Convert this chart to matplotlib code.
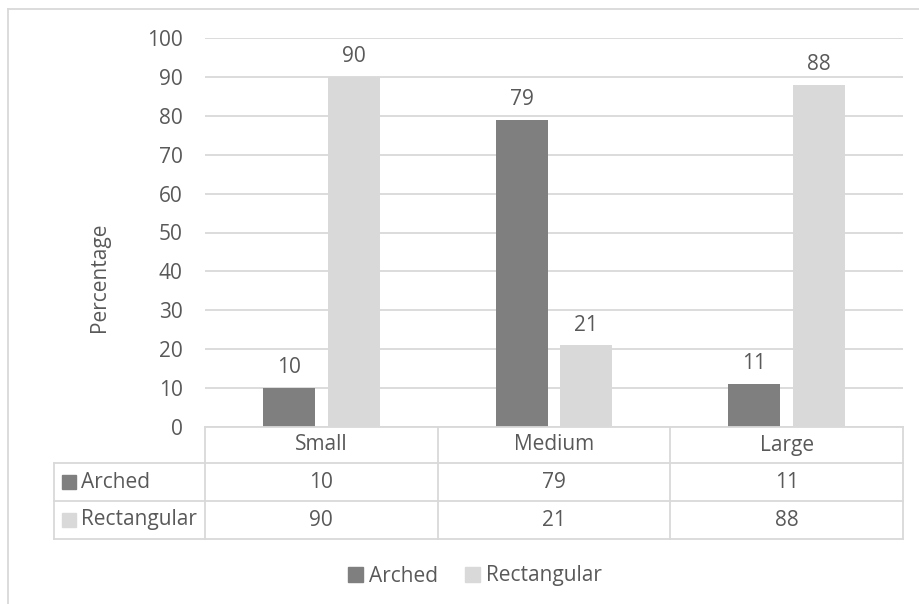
import matplotlib
matplotlib.use("Agg")
import matplotlib.pyplot as plt
from matplotlib.patches import Rectangle, Patch
from matplotlib.lines import Line2D
from matplotlib.transforms import blended_transform_factory
import numpy as np

categories = ["Small", "Medium", "Large"]
series_names = ["Arched", "Rectangular"]
arched = [10, 79, 11]
rectangular = [90, 21, 88]
yticks = [0, 10, 20, 30, 40, 50, 60, 70, 80, 90, 100]
ylabel = "Percentage"

colors = ["#7f7f7f", "#d9d9d9"]
txt = "#595959"
grid = "#d9d9d9"
plt.rcParams['font.family'] = ['Open Sans', 'DejaVu Sans']
FS = 15

W, H = 919, 604
fig = plt.figure(figsize=(W / 100, H / 100), dpi=100)

def fx(x):
    return x / W

def fy(y):
    return 1 - y / H

L, R, T, B = 205, 903, 38, 427
ax = fig.add_axes([fx(L), fy(B), (R - L) / W, (B - T) / H])
x = np.arange(len(categories))
bw = 0.223
off = 0.139
series = [arched, rectangular]
for i, (vals, c) in enumerate(zip(series, colors)):
    pos = x + (-off if i == 0 else off)
    bars = ax.bar(pos, vals, width=bw, color=c, zorder=3)
    for b, v in zip(bars, vals):
        ax.annotate(str(v), (b.get_x() + b.get_width() / 2, v), xytext=(0, 7),
                    textcoords="offset points", ha="center", va="bottom",
                    fontsize=FS, color=txt)

ax.set_xlim(-0.5, len(categories) - 0.5)
ax.set_ylim(0, 100)
ax.set_yticks(yticks)
ax.set_yticklabels([str(t) for t in yticks], fontsize=FS, color=txt)
ax.tick_params(axis="y", length=0, pad=16)
ax.set_xticks([])
ax.yaxis.grid(True, color=grid, linewidth=1.3, zorder=0)
for s in ax.spines.values():
    s.set_visible(False)

fig.text(fx(99), fy(277), ylabel, rotation=90, ha="center", va="center",
         fontsize=FS, color=txt)

# data table
tr = blended_transform_factory(ax.transData, fig.transFigure)
lc = grid
lw = 1.3
row_y = [427, 463, 501, 539]
lab_left = 54
fig.add_artist(Line2D([fx(L), fx(R)], [fy(427), fy(427)], color=lc, lw=lw))
for yy in row_y[1:]:
    fig.add_artist(Line2D([fx(lab_left), fx(R)], [fy(yy), fy(yy)], color=lc, lw=lw))
for k in range(len(categories) + 1):
    fig.add_artist(Line2D([k - 0.5, k - 0.5], [fy(427), fy(539)], color=lc, lw=lw,
                          transform=tr))
fig.add_artist(Line2D([fx(lab_left), fx(lab_left)], [fy(463), fy(539)], color=lc, lw=lw))

for k, cat in enumerate(categories):
    fig.text(k, fy(445), cat, transform=tr, ha="center", va="center",
             fontsize=FS, color=txt)
for r, (name, vals, c) in enumerate(zip(series_names, series, colors)):
    yc = (row_y[r + 1] + row_y[r + 2]) / 2
    fig.add_artist(Rectangle((fx(62), fy(yc + 7)), 14 / W, 14 / H, color=c,
                             transform=fig.transFigure))
    fig.text(fx(81), fy(yc), name, ha="left", va="center", fontsize=FS, color=txt)
    for k, v in enumerate(vals):
        fig.text(k, fy(yc), str(v), transform=tr, ha="center", va="center",
                 fontsize=FS, color=txt)

# legend
handles = [Patch(color=c, label=n) for c, n in zip(colors, series_names)]
leg = fig.legend(handles=handles, loc="center", bbox_to_anchor=(fx(475), fy(576)),
                 ncol=2, frameon=False, fontsize=FS, handlelength=0.7,
                 handleheight=0.7, handletextpad=0.3, columnspacing=1.3,
                 labelcolor=txt)

# outer border
fig.add_artist(Line2D([fx(8), fx(919)], [fy(9), fy(9)], color=grid, lw=1.3))
fig.add_artist(Line2D([fx(8), fx(8)], [fy(9), fy(604)], color=grid, lw=1.3))

fig.savefig("out.png", dpi=100)
